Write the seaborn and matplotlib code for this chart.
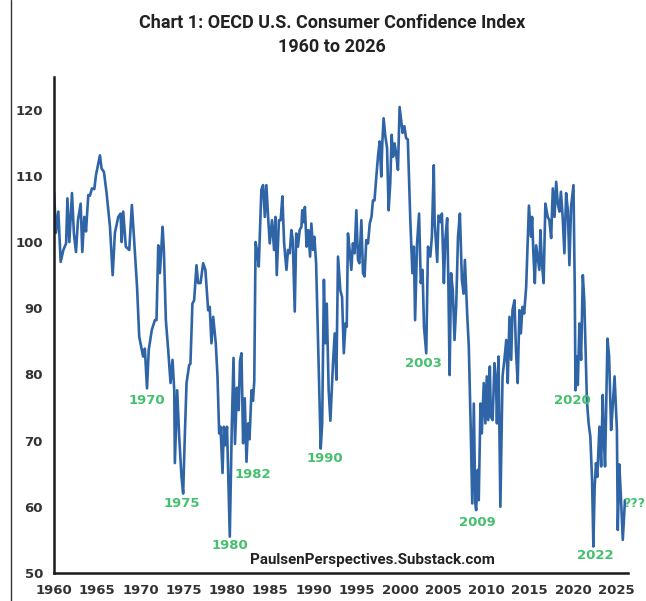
import matplotlib
matplotlib.use("Agg")
import matplotlib.pyplot as plt
from matplotlib.lines import Line2D
import seaborn as sns
import pandas as pd

# ---------------------------------------------------------
# 資料
# ---------------------------------------------------------
years = [
    1960.00, 1960.23, 1960.50, 1960.77, 1961.08, 1961.40, 1961.55, 1961.77, 1962.08, 1962.30,
    1962.54, 1962.77, 1963.08, 1963.27, 1963.50, 1963.70, 1963.96, 1964.15, 1964.39, 1964.66,
    1964.85, 1965.31, 1965.50, 1965.77, 1966.08, 1966.47, 1966.78, 1967.04, 1967.43, 1967.70,
    1967.82, 1968.00, 1968.30, 1968.70, 1969.00, 1969.24, 1969.60, 1969.85, 1970.10, 1970.30,
    1970.50, 1970.75, 1970.95, 1971.30, 1971.66, 1971.85, 1972.05, 1972.24, 1972.40, 1972.55,
    1972.70, 1972.93, 1973.20, 1973.47, 1973.70, 1973.90, 1973.97, 1974.24, 1974.47, 1974.74,
    1974.93, 1975.13, 1975.32, 1975.62, 1975.77, 1976.00, 1976.20, 1976.47, 1976.66, 1976.94,
    1977.24, 1977.50, 1977.82, 1978.00, 1978.20, 1978.40, 1978.70, 1978.90, 1979.09, 1979.25,
    1979.48, 1979.63, 1979.80, 1980.00, 1980.32, 1980.55, 1980.75, 1980.92, 1981.15, 1981.35,
    1981.50, 1981.67, 1981.86, 1982.05, 1982.25, 1982.44, 1982.60, 1982.83, 1983.00, 1983.15,
    1983.30, 1983.50, 1983.67, 1983.97, 1984.17, 1984.37, 1984.55, 1984.75, 1984.94, 1985.20,
    1985.44, 1985.60, 1985.75, 1986.00, 1986.20, 1986.40, 1986.60, 1986.87, 1987.05, 1987.25,
    1987.44, 1987.60, 1987.83, 1988.00, 1988.20, 1988.40, 1988.60, 1988.70, 1988.87, 1989.00,
    1989.20, 1989.40, 1989.60, 1989.75, 1989.95, 1990.10, 1990.30, 1990.83, 1991.00, 1991.20,
    1991.37, 1991.53, 1991.75, 1991.95, 1992.25, 1992.45, 1992.64, 1992.83, 1993.10, 1993.30,
    1993.50, 1993.70, 1993.84, 1993.98, 1994.17, 1994.37, 1994.55, 1994.75, 1994.95, 1995.14,
    1995.30, 1995.53, 1995.72, 1995.90, 1996.10, 1996.30, 1996.50, 1996.70, 1996.87, 1997.05,
    1997.26, 1997.45, 1997.64, 1997.83, 1997.95, 1998.10, 1998.30, 1998.50, 1998.68, 1998.87,
    1999.03, 1999.20, 1999.37, 1999.55, 1999.76, 1999.95, 2000.15, 2000.30, 2000.50, 2000.70,
    2000.90, 2001.20, 2001.43, 2001.60, 2001.74, 2001.97, 2002.20, 2002.40, 2002.60, 2002.77,
    2003.03, 2003.23, 2003.50, 2003.68, 2003.90, 2004.00, 2004.30, 2004.45, 2004.70, 2004.84,
    2005.07, 2005.23, 2005.45, 2005.60, 2005.73, 2005.90, 2006.10, 2006.30, 2006.50, 2006.70,
    2006.92, 2007.15, 2007.35, 2007.50, 2007.76, 2007.95, 2008.15, 2008.35, 2008.53, 2008.70,
    2008.80, 2009.00, 2009.10, 2009.30, 2009.45, 2009.68, 2009.87, 2010.03, 2010.20, 2010.38,
    2010.50, 2010.70, 2010.92, 2011.10, 2011.20, 2011.38, 2011.60, 2011.85, 2012.10, 2012.28,
    2012.45, 2012.65, 2012.85, 2013.00, 2013.23, 2013.40, 2013.60, 2013.80, 2013.97, 2014.15,
    2014.35, 2014.58, 2014.90, 2015.15, 2015.27, 2015.43, 2015.58, 2015.73, 2015.90, 2016.10,
    2016.23, 2016.40, 2016.60, 2016.80, 2017.07, 2017.26, 2017.47, 2017.66, 2017.86, 2018.05,
    2018.24, 2018.43, 2018.60, 2018.80, 2019.00, 2019.20, 2019.40, 2019.58, 2019.77, 2020.05,
    2020.20, 2020.28, 2020.40, 2020.55, 2020.74, 2020.93, 2021.13, 2021.30, 2021.45, 2021.60,
    2021.80, 2022.00, 2022.20, 2022.35, 2022.50, 2022.65, 2022.80, 2023.05, 2023.25, 2023.43,
    2023.55, 2023.70, 2023.98, 2024.17, 2024.40, 2024.56, 2024.80, 2025.07, 2025.17, 2025.35,
    2025.55, 2025.75, 2026.00,
]
index_values = [
    107.6, 101.4, 104.6, 97.0, 98.8, 99.8, 106.6, 100.0, 107.4, 101.3,
    98.5, 103.3, 105.8, 98.5, 103.8, 101.6, 107.1, 107.0, 108.1, 108.0,
    110.1, 113.1, 111.1, 110.6, 107.4, 102.3, 95.0, 101.4, 103.8, 104.3,
    100.0, 104.6, 99.3, 98.8, 105.6, 100.8, 93.2, 85.7, 84.0, 82.7,
    83.9, 77.9, 83.7, 86.7, 88.2, 88.2, 99.5, 95.3, 98.8, 102.3,
    98.8, 88.2, 83.7, 78.7, 82.2, 77.6, 66.6, 77.6, 70.6, 64.5,
    62.0, 71.1, 78.7, 81.4, 81.6, 90.7, 91.2, 96.5, 93.8, 93.8,
    96.8, 95.8, 89.7, 90.2, 84.7, 88.7, 84.7, 79.7, 71.1, 72.1,
    65.1, 72.1, 69.3, 72.1, 55.5, 72.0, 82.5, 69.5, 78.0, 74.6,
    82.0, 83.2, 69.6, 76.4, 66.8, 72.6, 70.2, 77.6, 76.0, 79.0,
    100.0, 98.5, 96.3, 107.9, 108.6, 103.8, 108.6, 103.8, 99.8, 103.3,
    98.8, 103.8, 95.0, 103.3, 103.3, 106.9, 99.8, 95.8, 98.8, 98.3,
    101.8, 100.3, 89.5, 101.3, 99.3, 101.8, 102.3, 104.8, 103.0, 105.3,
    99.3, 101.8, 97.8, 102.8, 98.8, 100.8, 96.8, 68.8, 72.6, 94.3,
    84.7, 90.7, 77.6, 73.0, 81.7, 86.2, 79.2, 97.8, 92.7, 91.7,
    83.2, 87.7, 87.2, 101.3, 98.8, 95.8, 99.8, 98.3, 104.8, 97.3,
    96.8, 103.3, 95.3, 94.8, 100.3, 99.8, 102.8, 103.8, 106.3, 106.3,
    109.9, 112.9, 115.2, 109.9, 114.9, 118.7, 116.0, 114.2, 104.8, 108.9,
    116.2, 112.9, 114.9, 113.4, 110.9, 120.4, 118.2, 116.5, 117.5, 115.7,
    115.5, 102.8, 95.3, 99.3, 88.2, 99.8, 104.3, 93.8, 95.8, 87.2,
    83.2, 99.3, 97.8, 100.8, 111.6, 103.0, 97.0, 104.0, 103.0, 104.3,
    93.8, 100.3, 103.6, 92.7, 79.9, 95.3, 92.7, 85.2, 90.7, 100.8,
    104.3, 94.3, 92.2, 97.3, 89.2, 84.2, 73.1, 60.5, 75.6, 60.5,
    59.5, 65.6, 61.0, 75.6, 71.1, 78.7, 72.6, 79.7, 73.1, 81.2,
    73.6, 73.1, 81.7, 78.7, 72.6, 82.7, 60.0, 79.7, 82.7, 85.2,
    78.7, 88.7, 82.2, 89.7, 91.2, 83.7, 78.7, 89.7, 86.2, 90.2,
    89.2, 93.2, 105.5, 100.8, 103.8, 97.8, 93.8, 99.5, 97.8, 95.8,
    101.8, 96.8, 93.8, 105.8, 103.8, 103.3, 100.6, 108.1, 103.8, 109.1,
    105.8, 104.6, 107.6, 103.8, 98.3, 107.4, 104.8, 96.5, 105.3, 108.6,
    92.7, 77.6, 82.7, 78.4, 87.7, 82.2, 95.0, 91.2, 83.7, 76.1,
    72.6, 70.6, 64.0, 54.0, 63.0, 66.6, 64.5, 72.1, 66.1, 76.9,
    70.6, 66.1, 85.4, 82.7, 71.6, 74.6, 79.7, 71.6, 56.5, 66.4,
    61.0, 55.0, 61.0,
]

# 低點標註
label_text = ["1970", "1975", "1980", "1982", "1990", "2003", "2009", "2020", "2022"]
label_year = [1970.75, 1974.75, 1980.35, 1982.95, 1991.3, 2002.75, 2008.95, 2019.9, 2022.55]
label_value = [76.1, 60.5, 54.2, 64.9, 67.3, 81.7, 57.6, 76.1, 52.6]
open_label = "???"
open_label_value = 60.5

x_ticks = list(range(1960, 2030, 5))
y_ticks = [50, 60, 70, 80, 90, 100, 110, 120]

df = pd.DataFrame({"year": years, "cci": index_values})

# ---------------------------------------------------------
# 繪圖
# ---------------------------------------------------------
sns.set_theme(style="white")
plt.rcParams["font.family"] = ["DejaVu Sans"]
NARROW = ["Roboto", "DejaVu Sans"]

fig = plt.figure(figsize=(6.46, 6.01), dpi=100, facecolor="white")
ax = fig.add_axes([0.0836, 0.0466, 0.8885, 0.826])

sns.lineplot(data=df, x="year", y="cci", ax=ax, color="#2F65A7", lw=1.9,
             estimator=None, sort=False)

ax.set_xlim(1960, 2026.35)
ax.set_ylim(50, 125)
ax.set_xticks(x_ticks)
ax.set_yticks(y_ticks)
ax.set_xlabel("")
ax.set_ylabel("")

for side in ["top", "right"]:
    ax.spines[side].set_visible(False)
for side in ["left", "bottom"]:
    ax.spines[side].set_color("#1a1a1a")
    ax.spines[side].set_linewidth(1.8)

ax.tick_params(axis="both", direction="inout", length=8, width=1.5,
               colors="#1a1a1a", labelsize=9.5, pad=4)
for lbl in ax.get_xticklabels() + ax.get_yticklabels():
    lbl.set_fontweight("bold")
    lbl.set_color("#333333")

for txt, xv, yv in zip(label_text, label_year, label_value):
    ax.text(xv, yv, txt, color="#45C06E", fontsize=9.5, fontweight="bold",
            ha="center", va="center", clip_on=False)

# 右緣的 ??? 標註
ax_y = ax.transLimits.transform((2026, open_label_value))[1]
fig.text(0.9985, 0.0466 + 0.826 * ax_y, open_label, color="#45C06E", fontsize=9,
         fontweight="bold", ha="right", va="center")

ax.text(1982.6, 51.9, "PaulsenPerspectives.Substack.com", color="#222222",
        fontsize=10.9, fontweight="bold", family=NARROW, ha="left", va="center")

fig.text(0.514, 0.962, "Chart 1: OECD U.S. Consumer Confidence Index",
         ha="center", va="center", fontsize=13, fontweight="bold",
         family=NARROW, color="#222222")
fig.text(0.514, 0.921, "1960 to 2026", ha="center", va="center",
         fontsize=13, fontweight="bold", family=NARROW, color="#222222")

# 左側邊框線
fig.add_artist(Line2D([0.017, 0.017], [0.0, 1.0], transform=fig.transFigure,
                      color="#333333", lw=1.0))

fig.savefig("out.png", dpi=100, facecolor="white")
